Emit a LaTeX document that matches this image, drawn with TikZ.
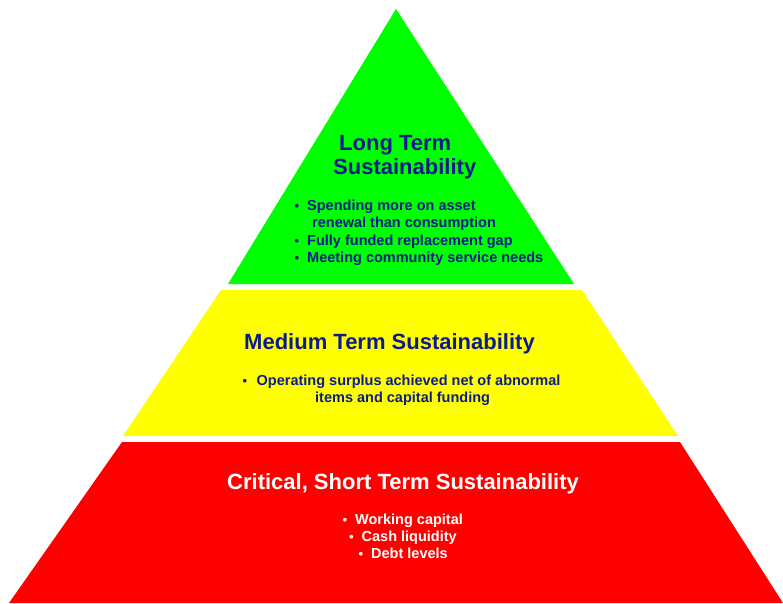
\documentclass[tikz,border=0pt]{standalone}
\usepackage{fontspec}
\setmainfont{Liberation Sans}
\definecolor{navytxt}{RGB}{12,28,140}
\definecolor{pgreen}{RGB}{0,255,0}
\definecolor{pyellow}{RGB}{255,255,0}
\definecolor{pred}{RGB}{255,0,0}
\tikzset{
  title/.style={inner sep=0pt, anchor=base west, font=\fontsize{22}{24}\selectfont\bfseries},
  item/.style={inner sep=0pt, anchor=base west, font=\fontsize{14.5}{17}\selectfont\bfseries},
  bul/.style={inner sep=0pt, anchor=base west, font=\fontsize{13}{15}\selectfont\bfseries},
}
\begin{document}
\begin{tikzpicture}[x=1pt,y=-1pt]
\useasboundingbox (0,0) rectangle (783,603);
\fill[white] (0,0) rectangle (783,603);
% layers
\fill[pgreen] (396,9) -- (574,284) -- (228,284) -- cycle;
\fill[pyellow] (221,290) -- (582,290) -- (678,436) -- (123,436) -- cycle;
\fill[pred] (122,442) -- (680,442) -- (783,603) -- (9,603) -- cycle;
% green layer text
\node[title, text=navytxt] (lt1) at (339,150) {Long Term};
\node[title, text=navytxt] (lt2) at (333,174) {Sustainability};
\node[bul, text=navytxt] (gb1) at (294.5,210.5) {•};
\node[item, text=navytxt] (g1) at (307,210.5) {Spending more on asset};
\node[item, text=navytxt] (g1b) at (312,227.5) {renewal than consumption};
\node[bul, text=navytxt] (gb2) at (294.5,245) {•};
\node[item, text=navytxt] (g2) at (307,245) {Fully funded replacement gap};
\node[bul, text=navytxt] (gb3) at (294.5,262) {•};
\node[item, text=navytxt] (g3) at (307,262) {Meeting community service needs};
% yellow layer text
\node[title, text=navytxt] (mt) at (244,349) {Medium Term Sustainability};
\node[bul, text=navytxt] (yb1) at (242.5,385.5) {•};
\node[item, text=navytxt] (y1) at (256.5,385.5) {Operating surplus achieved net of abnormal};
\node[item, text=navytxt] (y1b) at (315,402.5) {items and capital funding};
% red layer text
\node[title, text=white] (st) at (227,489) {Critical, Short Term Sustainability};
\node[bul, text=white] (rb1) at (342.5,524.5) {•};
\node[item, text=white] (r1) at (355,524.5) {Working capital};
\node[bul, text=white] (rb2) at (349,541.5) {•};
\node[item, text=white] (r2) at (361.5,541.5) {Cash liquidity};
\node[bul, text=white] (rb3) at (358.5,558.5) {•};
\node[item, text=white] (r3) at (371,558.5) {Debt levels};
\end{tikzpicture}
\end{document}
